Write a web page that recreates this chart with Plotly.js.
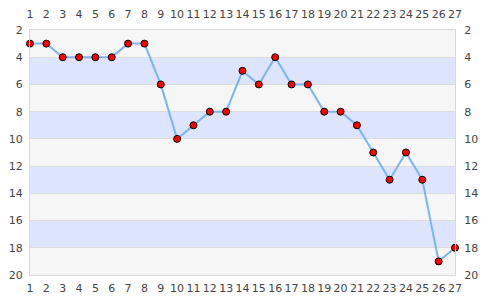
<!DOCTYPE html>
<html><head><meta charset="utf-8">
<script src="https://cdn.plot.ly/plotly-3.0.1.min.js"></script>
<style>html,body{margin:0;padding:0;background:#fff}#chart{width:485px;height:300px}</style>
</head><body><div id="chart"></div>
<script>
const positions = [1,2,3,4,5,6,7,8,9,10,11,12,13,14,15,16,17,18,19,20,21,22,23,24,25,26,27];
const ranks = [3,3,4,4,4,4,3,3,6,10,9,8,8,5,6,4,6,6,8,8,9,11,13,11,13,19,18];
const yTicks = [2,4,6,8,10,12,14,16,18,20];

const shapes = [];
for (let i = 0; i < yTicks.length - 1; i++) {
  shapes.push({type:'rect', xref:'paper', yref:'y', x0:0, x1:1, y0:yTicks[i], y1:yTicks[i+1],
    fillcolor: (i % 2 === 1) ? '#dde4fd' : '#f6f6f6', line:{width:0}, layer:'below'});
}

const font = {family:'DejaVu Sans, sans-serif', size:11, color:'#444'};
const data = [
  {x:positions, y:ranks, type:'scatter', mode:'lines+markers',
   line:{color:'#78b6f2', width:2},
   marker:{color:'#ff0000', size:7, line:{color:'#000', width:1}},
   cliponaxis:false, hoverinfo:'x+y'},
  {x:positions, y:ranks, xaxis:'x2', yaxis:'y2', type:'scatter', mode:'markers',
   marker:{opacity:0}, hoverinfo:'skip', showlegend:false}
];
const layout = {
  width:485, height:300,
  margin:{l:30, r:30, t:30, b:25},
  paper_bgcolor:'#fff', plot_bgcolor:'#f6f6f6',
  showlegend:false,
  font: font,
  shapes: shapes,
  xaxis:{range:[1,27], tickvals:positions, ticks:'outside', ticklen:3, tickcolor:'rgba(0,0,0,0)',
    showgrid:false, zeroline:false,
    showline:true, linecolor:'#d8d8d8', linewidth:1, mirror:true, tickfont:font, fixedrange:true},
  xaxis2:{range:[1,27], tickvals:positions, overlaying:'x', side:'top', ticks:'outside', ticklen:7,
    tickcolor:'rgba(0,0,0,0)', showgrid:false, zeroline:false, tickfont:font, fixedrange:true},
  yaxis:{range:[20,2], tickvals:yTicks, ticks:'outside', ticklen:4, tickcolor:'rgba(0,0,0,0)',
    showgrid:true, gridcolor:'#dcdcdc', gridwidth:1,
    zeroline:false, showline:true, linecolor:'#d8d8d8', linewidth:1, mirror:true, tickfont:font, fixedrange:true},
  yaxis2:{range:[20,2], tickvals:yTicks, overlaying:'y', side:'right', ticks:'outside', ticklen:6,
    tickcolor:'rgba(0,0,0,0)', showgrid:false, zeroline:false, tickfont:font, fixedrange:true}
};
Plotly.newPlot('chart', data, layout, {displayModeBar:false, staticPlot:true});
</script></body></html>
